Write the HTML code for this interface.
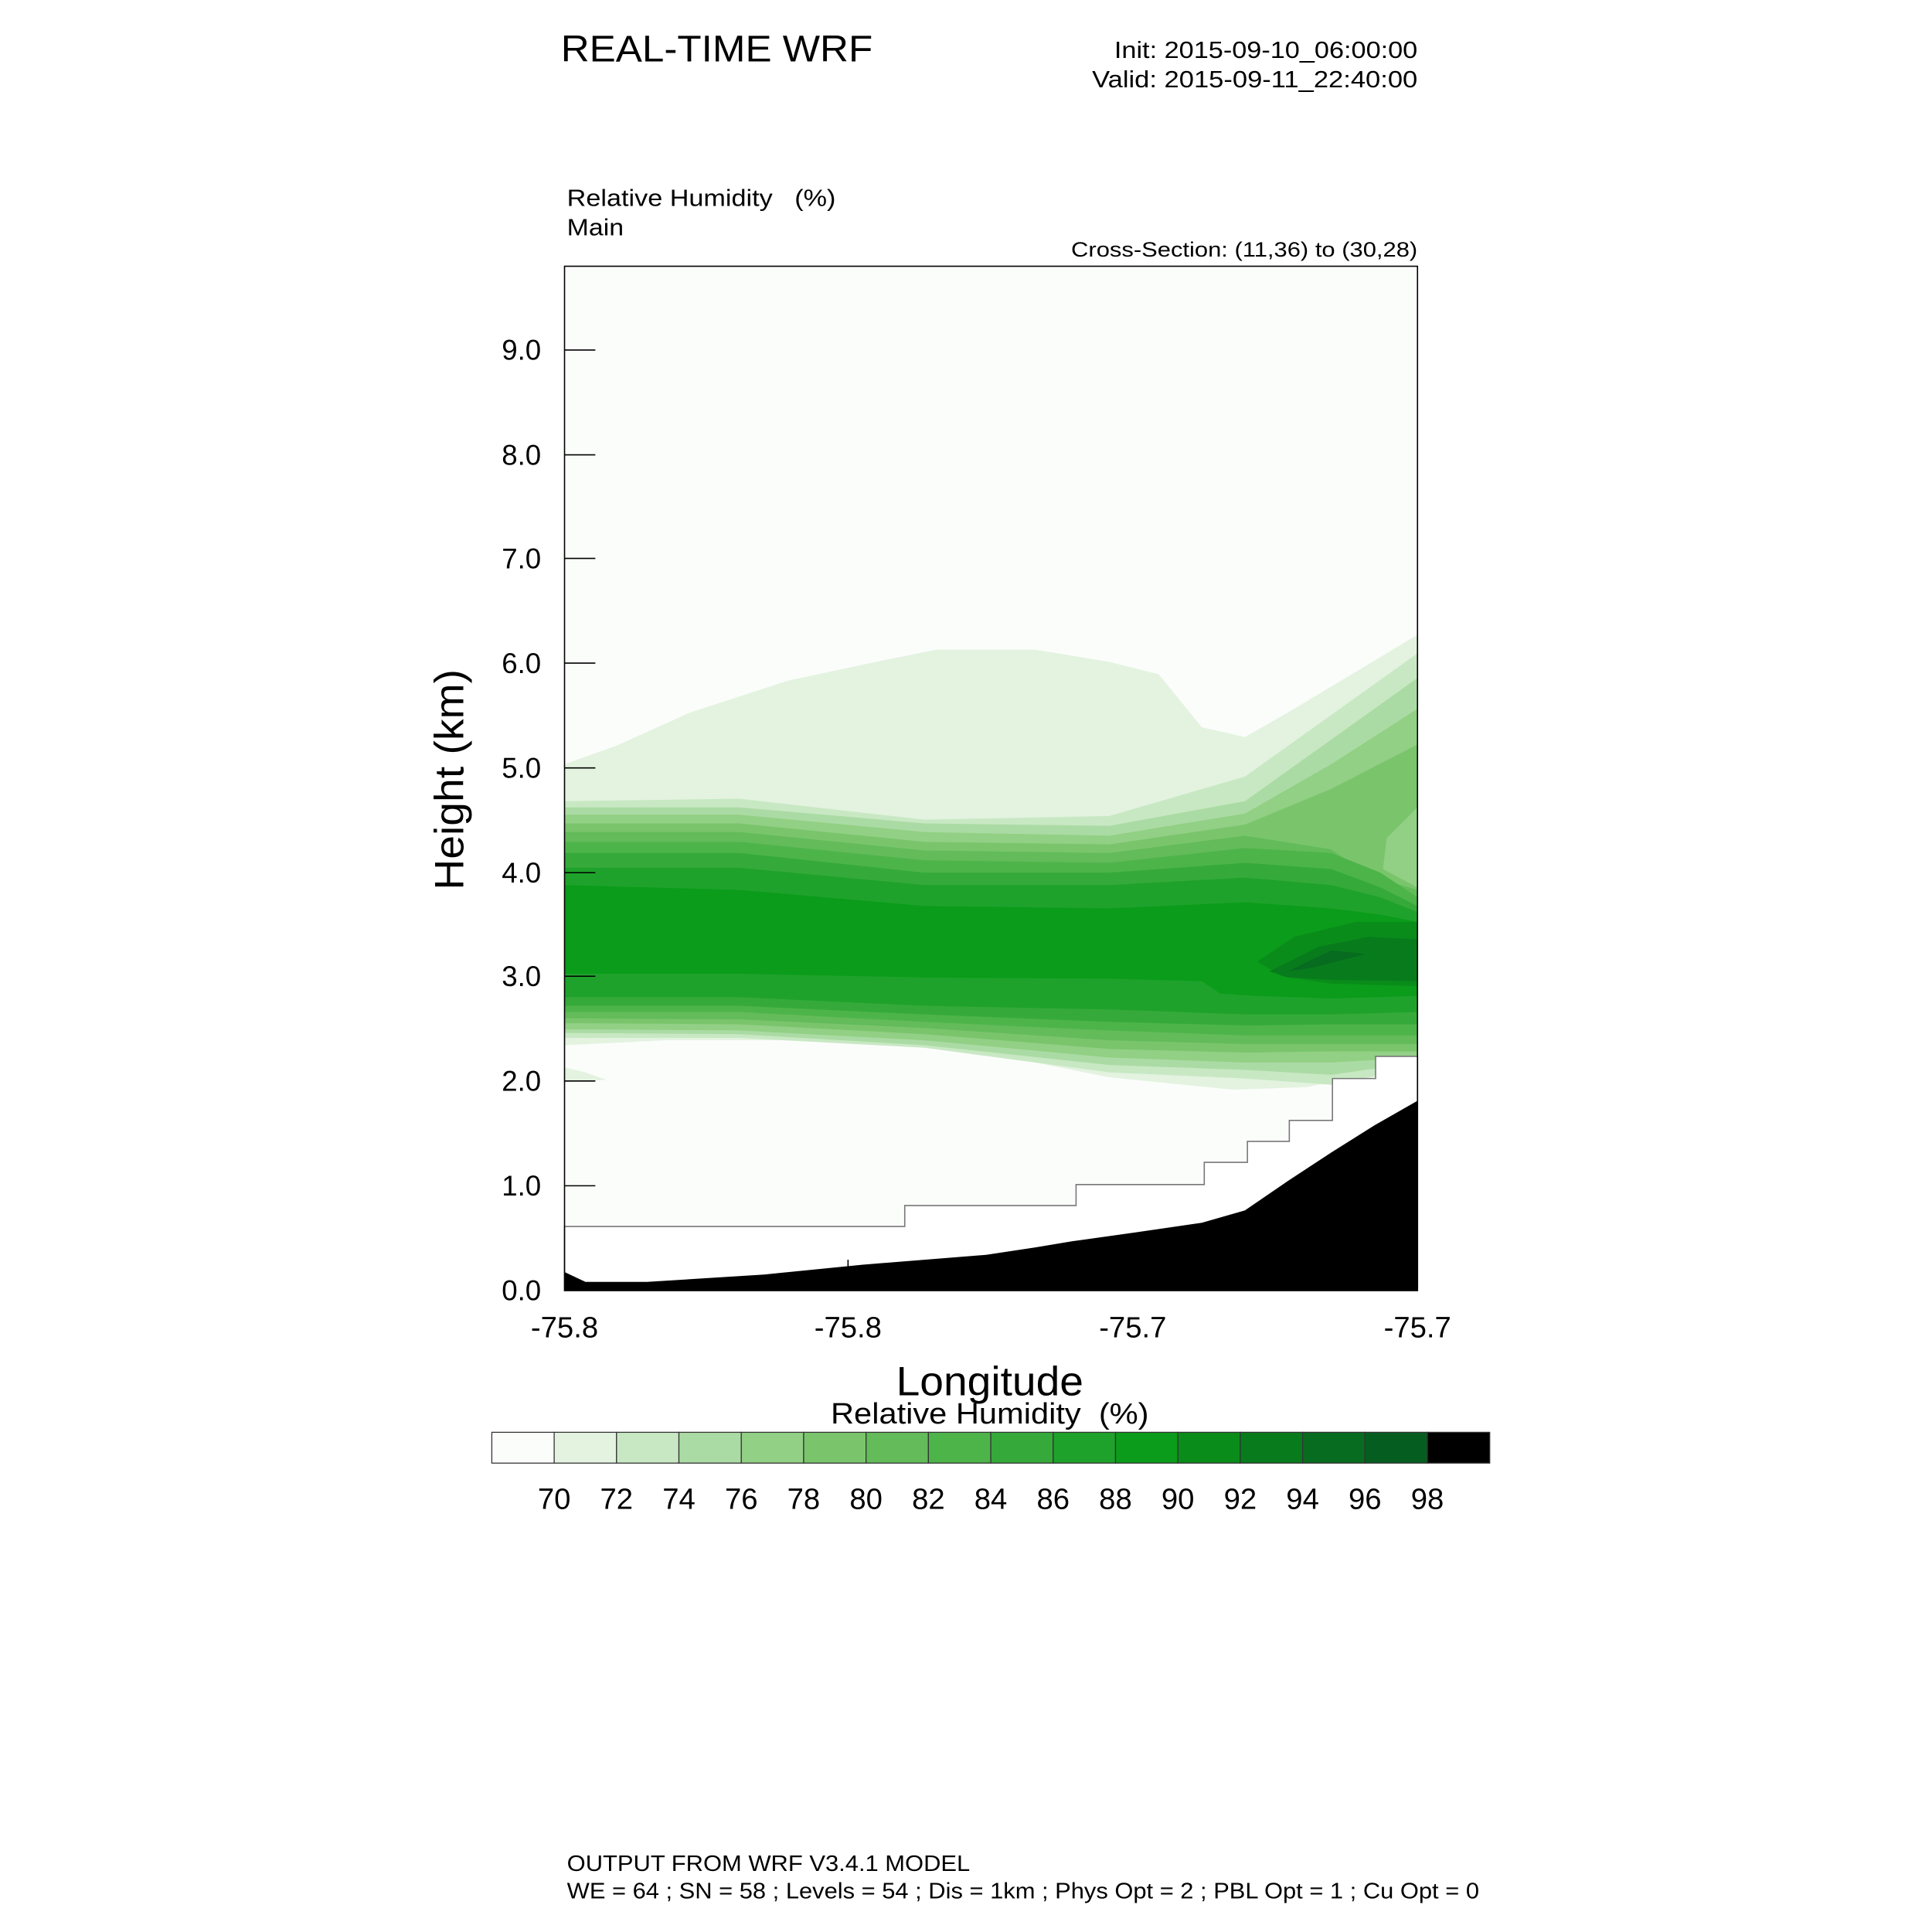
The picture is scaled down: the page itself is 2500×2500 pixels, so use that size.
<!DOCTYPE html>
<html><head><meta charset="utf-8"><style>html,body{margin:0;padding:0;background:#fff}svg{display:block}</style></head>
<body>
<svg width="2500" height="2500" viewBox="0 0 1567.4 1567.4" xmlns="http://www.w3.org/2000/svg" font-family="Liberation Sans, sans-serif">
<rect width="1567.4" height="1567.4" fill="#fff"/>
<!-- titles -->
<text x="455" y="50" font-size="30" textLength="253" lengthAdjust="spacingAndGlyphs">REAL-TIME WRF</text>
<text x="904" y="47" font-size="19" textLength="246" lengthAdjust="spacingAndGlyphs">Init: 2015-09-10_06:00:00</text>
<text x="886" y="71" font-size="19" textLength="264" lengthAdjust="spacingAndGlyphs">Valid: 2015-09-11_22:40:00</text>
<text x="460" y="167" font-size="19" textLength="218" lengthAdjust="spacingAndGlyphs" xml:space="preserve">Relative Humidity   (%)</text>
<text x="460" y="191" font-size="19" textLength="46" lengthAdjust="spacingAndGlyphs">Main</text>
<text x="869" y="208" font-size="17" textLength="281" lengthAdjust="spacingAndGlyphs">Cross-Section: (11,36) to (30,28)</text>
<!-- plot background -->
<rect x="458" y="216" width="692" height="831" fill="#fbfdfb"/>
<polygon fill="#e3f3e0" points="458,620 500,605 560,578 640,552 720,535 760,527 840,527 900,537 940,547 975,590 1010,598 1050,575 1100,545 1150,515 1150,870 1080,878 1060,882 1000,884 900,874 840,862 760,850 700,844 540,844 458,848"/>
<polygon fill="#e3f3e0" points="458,866 475,870 492,876 458,878"/>
<polygon fill="#c8e8c3" points="458,650 600,648 750,665 900,662 1010,630 1080,580 1150,530 1150,866 1080,880 1010,875 900,870 750,850 600,842 458,842"/>
<polygon fill="#abdba4" points="458,655 600,655 750,668 900,670 1010,650 1080,600 1150,550 1150,862 1080,872 1010,868 900,864 750,848 600,839 458,838"/>
<polygon fill="#92d085" points="458,661 600,661 750,675 900,678 1010,660 1080,620 1150,575 1150,858 1080,862 1010,862 900,858 750,844 600,836 458,835"/>
<polygon fill="#7ac56c" points="458,668 600,668 750,683 900,685 1010,669 1080,640 1150,604 1150,655 1125,680 1122,705 1150,720 1150,853 1080,853 1010,854 900,851 750,839 600,831 458,830"/>
<polygon fill="#92d085" points="1150,670 1140,690 1150,700"/>
<polygon fill="#63bb5a" points="458,675 600,675 750,690 900,692 1010,678 1080,689 1110,710 1150,722 1150,847 1080,847 1010,847 900,844 750,834 600,827 458,826"/>
<polygon fill="#4db44a" points="458,683 600,683 750,698 900,700 1010,688 1080,692 1120,708 1150,728 1150,840 1080,840 1010,840 900,836 750,829 600,821 458,821"/>
<polygon fill="#35aa3a" points="458,692 600,692 750,708 900,708 1010,700 1080,705 1120,720 1150,735 1150,831 1080,831 1010,832 900,829 750,823 600,816 458,816"/>
<polygon fill="#1fa22b" points="458,704 600,704 750,718 900,718 1010,712 1080,718 1120,728 1150,740 1150,821 1080,823 1010,823 900,819 750,816 600,809 458,809"/>
<polygon fill="#0a9c1a" points="458,718 600,722 750,735 900,737 1010,732 1080,737 1120,742 1150,748 1150,808 1080,810 1020,808 990,806 975,796 900,794 750,793 600,790 458,790"/>
<polygon fill="#0a8c1a" points="1020,780 1050,760 1100,748 1150,748 1150,800 1080,798 1040,792"/>
<polygon fill="#087c1c" points="1030,788 1070,768 1110,760 1150,762 1150,796 1080,795 1045,793"/>
<polygon fill="#076b20" points="1045,788 1080,771 1108,774 1065,785"/>
<!-- masked area below step line -->
<polygon fill="#ffffff" stroke="#777" stroke-width="1" points="458,995 734,995 734,978 873,978 873,961 977,961 977,943 1012,943 1012,926 1046,926 1046,909 1081,909 1081,875 1116,875 1116,857 1150,857 1150,1047 458,1047"/>
<!-- terrain -->
<polygon fill="#000" points="458,1032 475,1040 525,1040 620,1034 700,1026 800,1018 840,1012 870,1007 920,1000 975,992 1010,982 1045,958 1080,935 1115,913 1150,893 1150,1047 458,1047"/>
<rect x="458" y="216" width="692" height="831" fill="none" stroke="#000" stroke-width="1"/>
<g stroke="#000" stroke-width="1">
<line x1="458" y1="962" x2="483" y2="962"/><line x1="458" y1="877" x2="483" y2="877"/>
<line x1="458" y1="792" x2="483" y2="792"/><line x1="458" y1="708" x2="483" y2="708"/>
<line x1="458" y1="623" x2="483" y2="623"/><line x1="458" y1="538" x2="483" y2="538"/>
<line x1="458" y1="453" x2="483" y2="453"/><line x1="458" y1="369" x2="483" y2="369"/>
<line x1="458" y1="284" x2="483" y2="284"/>
<line x1="688" y1="1047" x2="688" y2="1022"/><line x1="919" y1="1047" x2="919" y2="1022"/>
</g>
<g font-size="23" text-anchor="end">
<text x="439" y="1055">0.0</text><text x="439" y="970">1.0</text><text x="439" y="885">2.0</text>
<text x="439" y="800">3.0</text><text x="439" y="716">4.0</text><text x="439" y="631">5.0</text>
<text x="439" y="546">6.0</text><text x="439" y="461">7.0</text><text x="439" y="377">8.0</text>
<text x="439" y="292">9.0</text>
</g>
<g font-size="24" text-anchor="middle">
<text x="458" y="1085">-75.8</text><text x="688" y="1085">-75.8</text>
<text x="919" y="1085">-75.7</text><text x="1150" y="1085">-75.7</text>
</g>
<text x="727" y="1132" font-size="33" textLength="152" lengthAdjust="spacingAndGlyphs">Longitude</text>
<text transform="translate(376,722) rotate(-90)" font-size="33" textLength="179" lengthAdjust="spacingAndGlyphs">Height (km)</text>
<text x="674" y="1155" font-size="24" textLength="258" lengthAdjust="spacingAndGlyphs" xml:space="preserve">Relative Humidity  (%)</text>
<g stroke="#333" stroke-width="0.8">
<rect x="399" y="1162" width="50.6" height="25" fill="#fbfdfb"/>
<rect x="449.6" y="1162" width="50.6" height="25" fill="#e3f3e0"/>
<rect x="500.2" y="1162" width="50.6" height="25" fill="#c8e8c3"/>
<rect x="550.8" y="1162" width="50.6" height="25" fill="#abdba4"/>
<rect x="601.4" y="1162" width="50.6" height="25" fill="#92d085"/>
<rect x="652" y="1162" width="50.6" height="25" fill="#7ac56c"/>
<rect x="702.6" y="1162" width="50.6" height="25" fill="#63bb5a"/>
<rect x="753.2" y="1162" width="50.6" height="25" fill="#4db44a"/>
<rect x="803.8" y="1162" width="50.6" height="25" fill="#35aa3a"/>
<rect x="854.4" y="1162" width="50.6" height="25" fill="#1fa22b"/>
<rect x="905" y="1162" width="50.6" height="25" fill="#0a9c1a"/>
<rect x="955.6" y="1162" width="50.6" height="25" fill="#0a8c1a"/>
<rect x="1006.2" y="1162" width="50.6" height="25" fill="#087c1c"/>
<rect x="1056.8" y="1162" width="50.6" height="25" fill="#076b20"/>
<rect x="1107.4" y="1162" width="50.6" height="25" fill="#055e20"/>
<rect x="1158" y="1162" width="50.6" height="25" fill="#000"/>
</g>
<g font-size="24" text-anchor="middle">
<text x="449.6" y="1224">70</text><text x="500.2" y="1224">72</text><text x="550.8" y="1224">74</text>
<text x="601.4" y="1224">76</text><text x="652" y="1224">78</text><text x="702.6" y="1224">80</text>
<text x="753.2" y="1224">82</text><text x="803.8" y="1224">84</text><text x="854.4" y="1224">86</text>
<text x="905" y="1224">88</text><text x="955.6" y="1224">90</text><text x="1006.2" y="1224">92</text>
<text x="1056.8" y="1224">94</text><text x="1107.4" y="1224">96</text><text x="1158" y="1224">98</text>
</g>
<text x="460" y="1518" font-size="18" textLength="327" lengthAdjust="spacingAndGlyphs">OUTPUT FROM WRF V3.4.1 MODEL</text>
<text x="460" y="1540" font-size="18" textLength="740" lengthAdjust="spacingAndGlyphs">WE = 64 ; SN = 58 ; Levels = 54 ; Dis = 1km ; Phys Opt = 2 ; PBL Opt = 1 ; Cu Opt = 0</text>
</svg>
</body></html>
